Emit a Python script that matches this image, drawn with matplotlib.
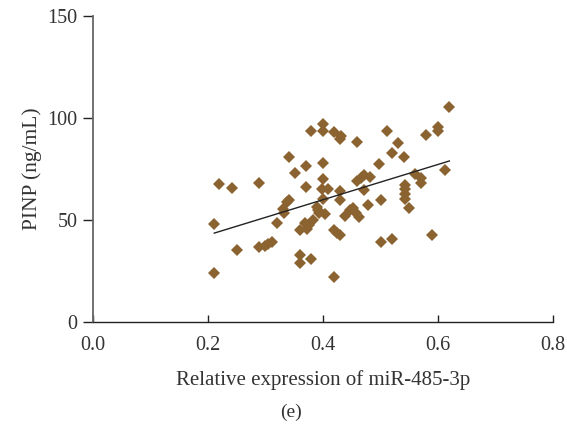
import matplotlib
matplotlib.use('Agg')
import matplotlib.pyplot as plt
import numpy as np

# === Data ===
mir_expr = [0.211, 0.211, 0.22, 0.241, 0.25, 0.289, 0.289, 0.299, 0.304, 0.312,
            0.321, 0.331, 0.332, 0.338, 0.341, 0.341, 0.351, 0.36, 0.36, 0.36,
            0.371, 0.371, 0.369, 0.372, 0.376, 0.38, 0.38, 0.382, 0.389, 0.391,
            0.394, 0.401, 0.401, 0.401, 0.401, 0.399, 0.401, 0.403, 0.409, 0.42,
            0.429, 0.431, 0.42, 0.425, 0.43, 0.42, 0.43, 0.43, 0.439, 0.447,
            0.452, 0.457, 0.462, 0.46, 0.46, 0.467, 0.472, 0.472, 0.479, 0.482,
            0.498, 0.501, 0.501, 0.511, 0.521, 0.521, 0.531, 0.541, 0.542, 0.542,
            0.542, 0.542, 0.55, 0.561, 0.57, 0.57, 0.58, 0.59, 0.6, 0.6,
            0.613, 0.62]
pinp = [48.0, 23.8, 67.7, 65.4, 35.1, 68.1, 36.6, 37.2, 38.0, 39.2,
        48.6, 55.2, 53.5, 58.8, 59.7, 81.0, 73.1, 45.0, 33.0, 28.7,
        76.2, 66.3, 48.6, 45.4, 47.3, 93.4, 30.7, 49.9, 56.5, 54.8,
        53.2, 96.9, 93.4, 78.0, 70.2, 65.3, 60.1, 52.9, 65.0, 93.0,
        89.8, 91.1, 45.0, 43.4, 42.4, 22.2, 64.3, 59.7, 51.9, 54.8,
        55.8, 53.2, 51.6, 88.1, 68.9, 70.5, 71.8, 64.6, 57.1, 71.2,
        77.4, 59.7, 39.2, 93.4, 82.6, 40.5, 87.5, 81.0, 66.9, 65.0,
        62.7, 60.4, 55.8, 72.5, 70.5, 67.9, 91.4, 42.4, 95.6, 93.7,
        74.4, 105.1]

x_ticks = [0.0, 0.2, 0.4, 0.6, 0.8]
y_ticks = [0, 50, 100, 150]

# === Plot ===
plt.rcParams['font.family'] = ['Liberation Serif', 'DejaVu Serif']

fig = plt.figure(figsize=(5.67, 4.28), dpi=100)
ax = fig.add_axes([0.164, 0.248, 0.811, 0.715])

x = np.array(mir_expr)
y = np.array(pinp)
ax.plot(x, y, linestyle='none', marker='D', markersize=6.2,
        color='#8b6330', markeredgewidth=0, zorder=2)

# linear trend line
slope, intercept = np.polyfit(x, y, 1)
xl = np.array([x.min(), x.max()])
ax.plot(xl, slope * xl + intercept, color='#222222', linewidth=1.0, zorder=3)

ax.set_xlim(0, 0.8)
ax.set_ylim(0, 150)
ax.set_xticks(x_ticks)
ax.set_xticklabels([f'{t:.1f}' for t in x_ticks])
ax.set_yticks(y_ticks)

ax.spines['top'].set_visible(False)
ax.spines['right'].set_visible(False)
ax.spines['left'].set_color('#666666')
ax.spines['left'].set_linewidth(1.3)
ax.spines['bottom'].set_color('#222222')
ax.spines['bottom'].set_linewidth(1.0)

ax.tick_params(axis='x', direction='in', length=5, width=1.0, colors='#222222',
               labelsize=14.5, pad=10, labelcolor='#333333')
ax.tick_params(axis='y', direction='out', length=7, width=1.0, colors='#222222',
               labelsize=14.5, pad=4, labelcolor='#333333')

ax.set_xlabel('Relative expression of miR-485-3p', fontsize=15, color='#333333', labelpad=11)
ax.set_ylabel('PINP (ng/mL)', fontsize=15.5, color='#333333', labelpad=4)

fig.text(0.513, 0.037, '(e)', fontsize=14, color='#333333', ha='center', va='center')

fig.savefig('out.png', dpi=100)
